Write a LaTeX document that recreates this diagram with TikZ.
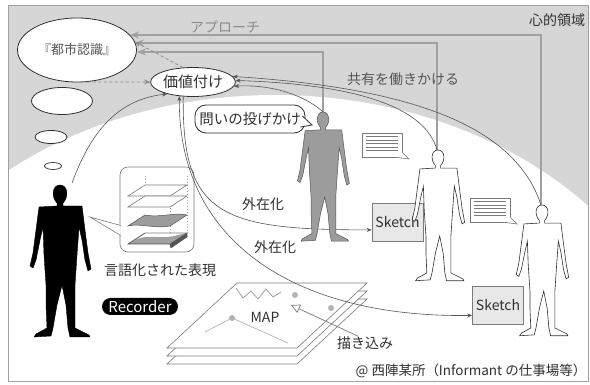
\documentclass[tikz,border=0pt]{standalone}
\usepackage{fontspec}
\setmainfont{Noto Sans CJK JP}
\usetikzlibrary{arrows.meta,shapes.geometric,calc}

\definecolor{zone}{HTML}{D6D6D6}
\definecolor{ink}{HTML}{303030}
\definecolor{mid}{HTML}{555555}
\definecolor{soft}{HTML}{8A8A8A}
\definecolor{rule}{HTML}{7A7A7A}
\definecolor{paper}{HTML}{E8E8E8}
\definecolor{figgray}{HTML}{9C9C9C}
\definecolor{lineg}{HTML}{A0A0A0}

\tikzset{
  fs/.style={font=\fontsize{#1}{#1}\selectfont},
  jtext/.style={fs=14, text=ink, inner sep=0pt},
  oval/.style={ellipse, draw=ink, line width=0.8pt, fill=white, inner sep=0pt},
  link/.style={draw=mid, line width=0.6pt, -{Stealth[length=5pt,width=4pt]}},
  bilink/.style={draw=mid, line width=0.6pt, {Stealth[length=5pt,width=4pt]}-{Stealth[length=5pt,width=4pt]}},
  approach/.style={draw=lineg, line width=1.4pt, -{Stealth[length=9pt,width=7pt]}},
  dashlink/.style={draw=soft, line width=0.8pt, dash pattern=on 3pt off 2.5pt, -{Stealth[length=6pt,width=5pt]}},
  sketchbox/.style={draw=rule, fill=paper, line width=0.6pt, minimum width=51pt, minimum height=38pt, inner sep=0pt, fs=14, text=ink},
  memo/.style={draw=rule, fill=white, line width=0.6pt, minimum width=40pt, minimum height=24pt, inner sep=0pt},
  sheet/.style={draw=rule, fill=white, line width=0.6pt},
  person/.pic={
    \path[pic actions] (0,0) .. controls (8,0) and (9,12) .. (3,18) -- (3,21) -- (22,21)
      -- (25,45) -- (28,68) -- (31,84) -- (28,86) -- (25,75) -- (22,55) -- (19,42)
      -- (17,70) -- (15,100) -- (15,125) -- (15,143) -- (29,150) -- (30,152) -- (10,152)
      -- (8,143) -- (6,120) -- (2,100) -- (-3,120) -- (-7,143) -- (-9,151) -- (-26,152)
      -- (-24,149) -- (-13,143) -- (-14,120) -- (-14,100) -- (-16,70) -- (-17,42)
      -- (-20,55) -- (-24,75) -- (-27,83) -- (-30,81) -- (-27,68) -- (-24,45) -- (-21,22)
      -- (-3,21) -- (-3,18) .. controls (-9,12) and (-8,0) .. (0,0) -- cycle;
  }
}

\begin{document}
\begin{tikzpicture}[x=1pt,y=-1pt]
\useasboundingbox (0,0) rectangle (590,385);

% mental zone: grey field with a white dome below
\begin{scope}
  \clip (8,5) rectangle (588,381);
  \fill[zone] (8,5) rectangle (588,381);
  \fill[white] (275,418) ellipse [x radius=415, y radius=323];
\end{scope}
\draw[lineg, line width=0.8pt] (8,5) rectangle (588,381);

% head positions of the three informants
\coordinate (h1) at (323,112);
\coordinate (h2) at (437,150);
\coordinate (h3) at (541,205);
\coordinate (bk) at (72,183);

% urban cognition and thought bubbles
\node[oval, minimum width=119pt, minimum height=64pt, fs=13, text=mid] (city) at (77,50) {『都市認識』};
\node[oval, minimum width=61pt, minimum height=27pt] (th1) at (62,101) {};
\node[oval, minimum width=32pt, minimum height=13pt] (th2) at (51,137) {};
\node[oval, minimum width=17pt, minimum height=7pt, line width=0.7pt] (th3) at (53,166) {};

% approach lines
\coordinate (e1) at (137,52);
\coordinate (e2) at (135,43);
\coordinate (e3) at (130,35);
\draw[approach] (h3) |- (e3);
\draw[approach] (h2) |- (e2);
\draw[approach] (h1) |- (e1);
\node[jtext, text=soft] (appr) at (225,27) {アプローチ};
\node[jtext] (mind) at (557,20) {心的領域};
\node[jtext, text=mid] (share) at (403,79) {共有を働きかける};

% valuation
\node[oval, minimum width=81pt, minimum height=29pt, fs=15, text=ink] (val) at (193,82) {価値付け};

% question box with tail
\node[draw=ink, line width=0.8pt, fill=white, rounded corners=11pt, minimum width=110pt,
      minimum height=28pt, inner sep=0pt, fs=14.5, text=ink] (ask) at (250,119) {問いの投げかけ};
\coordinate (asktip) at (312,125);
\filldraw[draw=ink, line width=0.8pt, fill=white] ($(ask.east)+(-3,-3)$) -- (asktip) -- ($(ask.east)+(-5,8)$);

% memo bubbles
\node[memo] (m1) at (382,145) {};
\node[memo] (m2) at (490,210) {};
\coordinate (m1tip) at (409,159);
\coordinate (m2tip) at (517,224);
\filldraw[draw=rule, line width=0.6pt, fill=white] ($(m1.south east)+(-6,0)$) -- (m1tip) -- ($(m1.south east)+(0,-5)$);
\filldraw[draw=rule, line width=0.6pt, fill=white] ($(m2.south east)+(-6,0)$) -- (m2tip) -- ($(m2.south east)+(0,-5)$);
\foreach \k in {0,...,4} {
  \draw[rule, line width=0.6pt] ($(m1.north west)+(4,4+3.5*\k)$) -- ++(32,0);
  \draw[rule, line width=0.6pt] ($(m2.north west)+(4,4+3.5*\k)$) -- ++(32,0);
}

% sketches
\node[sketchbox] (sk1) at (397.5,222) {Sketch};
\node[sketchbox] (sk2) at (498,305) {Sketch};

% verbalised representation: stacked layers in a bubble
\node[draw=rule, line width=0.6pt, fill=white, rounded corners=8pt, minimum width=74pt,
      minimum height=85pt, inner sep=0pt] (lay) at (157,209.5) {};
\coordinate (laytip) at (90,217);
\filldraw[draw=rule, line width=0.6pt, fill=white] ($(lay.west)+(1,26)$) -- (laytip) -- ($(lay.west)+(1,16)$);
\draw[lineg, line width=0.5pt, dash pattern=on 1.5pt off 1.5pt] (145,176) -- (145,200) (187,176) -- (187,238) (170,190) -- (170,246);
\foreach \yb in {196,207}
  \filldraw[sheet] (128,\yb) -- (170,\yb) -- (187,\yb-11) -- (145,\yb-11) -- cycle;
\filldraw[fill=figgray, draw=mid, line width=0.5pt] (128,226) .. controls (140,223) and (155,229) .. (170,226)
  -- (187,215) .. controls (175,212) and (160,218) .. (145,215) -- cycle;
\filldraw[sheet] (128,244) -- (170,244) -- (187,233) -- (145,233) -- cycle;
\fill[lineg] (128,244) -- (170,244) -- (187,233) -- (178,235) .. controls (162,240) and (150,234) .. (137,239) -- cycle;
\filldraw[fill=mid, draw=mid, line width=0.4pt] (170,244) -- (187,233) -- (187,237) -- (171,248) -- cycle;
\draw[mid, line width=0.5pt] (128,244) -- (170,244) -- (171,248) (128,244) -- (145,233);
\node[jtext] (lang) at (160,270) {言語化された表現};

% recorder
\node[fill=black, text=white, rounded corners=8.5pt, minimum width=76pt, minimum height=17pt,
      inner sep=0pt, fs=15] (rec) at (140,306.5) {Recorder};

% map sheets
\foreach \d in {16,8,0}
  \filldraw[sheet] (237,283+\d) -- (367,283+\d) -- (297,348+\d) -- (167,348+\d) -- cycle;
\draw[lineg, line width=0.8pt] (236,288) -- (243,298) -- (251,291) -- (258,299) -- (266,289) -- (273,297) -- (281,292);
\draw[lineg!70, line width=0.8pt] (205,332) -- (232,318) -- (288,343);
\fill[lineg!80] (295,295) circle (3) (331,308) circle (3) (232,318) circle (3);
\node[jtext, fs=14] (maplbl) at (265,317) {MAP};
\node[jtext] (dk) at (365,343) {描き込み};
\coordinate (mp) at (291,305);
\draw[draw=rule, line width=0.7pt, -{Triangle[open, length=9pt, width=9pt]}] (dk.135) -- (mp);

% externalisation
\node[jtext] (ext1) at (263,204) {外在化};
\node[jtext] (ext2) at (275,247) {外在化};
\draw[link] (val.236) .. controls (182,215) and (220,230) .. (sk1.-163);
\draw[bilink] (val.226) .. controls (178,245) and (300,318) .. (sk2.-158);

% links to valuation
\draw[link] (bk) .. controls (88,140) and (112,100) .. (val.205);
\draw[dashlink] (city.-72) -- (val.west);
\draw[dashlink] (val.125) -- (city.8);
\draw[link] (h1) .. controls (305,95) and (270,84) .. (val.-6);
\draw[link] (h2) .. controls (425,105) and (350,84) .. (val.2);
\draw[link] (h3) .. controls (515,125) and (410,88) .. (val.8);

% people
\pic[fill=black, draw=black, line width=0.4pt] at (60,185) {person};
\pic[fill=figgray, draw=mid, line width=0.5pt, scale=0.85] at (323,112) {person};
\pic[fill=white, draw=ink, line width=0.6pt, scale=0.86] at (438,150) {person};
\pic[fill=white, draw=ink, line width=0.6pt, scale=0.86] at (542,205) {person};

\node[jtext, fs=13.5] (credit) at (471,371) {@ 西陣某所（Informant の仕事場等）};
\end{tikzpicture}
\end{document}
